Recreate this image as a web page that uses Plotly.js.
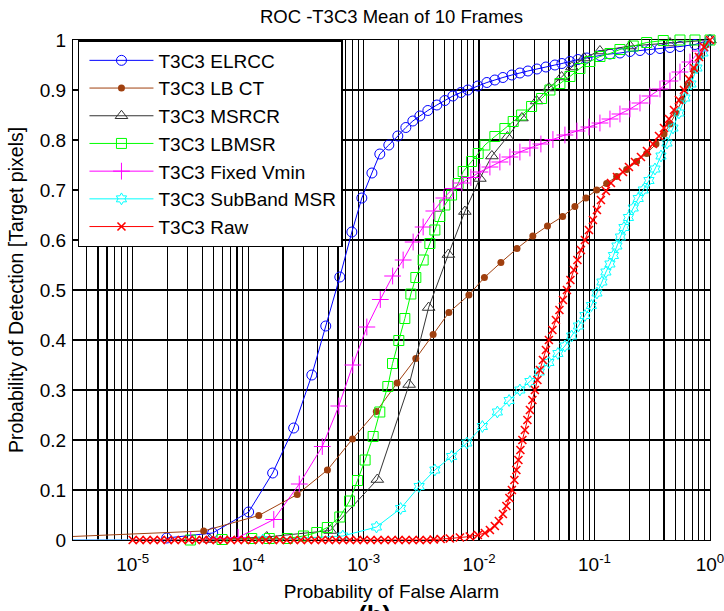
<!DOCTYPE html>
<html><head><meta charset="utf-8">
<script src="https://cdn.plot.ly/plotly-3.0.1.min.js"></script>
<style>html,body{margin:0;padding:0;background:#fff}#chart{width:724px;height:611px}</style>
</head><body><div id="chart"></div>
<script>
// ---- data ----
const seriesNames = ['T3C3 ELRCC', 'T3C3 LB CT', 'T3C3 MSRCR', 'T3C3 LBMSR', 'T3C3 Fixed Vmin', 'T3C3 SubBand MSR', 'T3C3 Raw'];

const elrccX = [1.97e-5, 4.93e-5, 1.01e-4, 1.63e-4, 2.48e-4, 3.56e-4, 4.70e-4, 6.22e-4, 7.91e-4, 9.65e-4, 1.18e-3, 1.381e-3, 1.653e-3, 1.978e-3, 2.321e-3, 2.669e-3, 3.069e-3, 3.600e-3, 4.309e-3, 5.053e-3, 5.929e-3, 6.957e-3, 7.996e-3, 9.763e-3, 0.01168, 0.0137, 0.01608, 0.01924, 0.02257, 0.02648, 0.03168, 0.03793, 0.04538, 0.05218, 0.06118, 0.07182, 0.08592, 0.1114, 0.136, 0.166, 0.2026, 0.2474, 0.302, 0.3687, 0.45, 0.5495, 0.7413, 1];
const elrccY = [0.004, 0.014, 0.056, 0.134, 0.224, 0.33, 0.428, 0.526, 0.616, 0.684, 0.734, 0.772, 0.79, 0.808, 0.825, 0.838, 0.848, 0.859, 0.87, 0.879, 0.888, 0.895, 0.9, 0.908, 0.915, 0.92, 0.925, 0.93, 0.934, 0.938, 0.942, 0.946, 0.95, 0.953, 0.957, 0.961, 0.964, 0.969, 0.972, 0.974, 0.977, 0.979, 0.981, 0.983, 0.985, 0.987, 0.991, 1];

const lbctX = [3.0e-6, 4.12e-5, 1.236e-4, 2.66e-4, 4.86e-4, 8.01e-4, 1.288e-3, 1.95e-3, 2.83e-3, 4.00e-3, 5.47e-3, 8.16e-3, 0.01112, 0.01545, 0.0213, 0.0292, 0.0391, 0.0529, 0.0676, 0.0842, 0.1043, 0.1273, 0.1554, 0.1897, 0.2316, 0.2828, 0.3404, 0.3994, 0.45, 0.5074, 0.5718, 0.6448, 0.7268, 0.819, 0.9233, 1];
const lbctY = [0.007, 0.018, 0.049, 0.091, 0.14, 0.202, 0.257, 0.314, 0.363, 0.411, 0.455, 0.49, 0.525, 0.555, 0.583, 0.608, 0.628, 0.647, 0.667, 0.684, 0.70, 0.713, 0.727, 0.741, 0.757, 0.773, 0.792, 0.812, 0.832, 0.854, 0.88, 0.91, 0.94, 0.968, 0.99, 1];

const msrcrX = [4.65e-5, 1.449e-4, 5.14e-4, 1.314e-3, 2.479e-3, 3.658e-3, 5.42e-3, 7.53e-3, 0.01016, 0.01291, 0.01759, 0.02349, 0.0315, 0.04025, 0.05186, 0.06371, 0.08093, 0.1114, 0.2026, 0.45, 1];
const msrcrY = [0.001, 0.006, 0.019, 0.121, 0.311, 0.465, 0.571, 0.657, 0.723, 0.768, 0.806, 0.844, 0.878, 0.904, 0.926, 0.946, 0.964, 0.978, 0.988, 0.994, 1];

const lbmsrX = [3.16e-5, 5.94e-5, 1.074e-4, 1.524e-4, 2.182e-4, 3.013e-4, 3.93e-4, 4.85e-4, 6.22e-4, 7.55e-4, 8.85e-4, 1.030e-3, 1.209e-3, 1.381e-3, 1.621e-3, 1.780e-3, 2.018e-3, 2.275e-3, 2.565e-3, 2.833e-3, 3.278e-3, 3.747e-3, 4.14e-3, 4.574e-3, 5.053e-3, 5.778e-3, 6.59e-3, 7.28e-3, 8.61e-3, 9.82e-3, 0.01123, 0.0137, 0.01673, 0.01975, 0.02335, 0.0285, 0.03479, 0.04107, 0.05013, 0.06118, 0.0747, 0.09123, 0.1114, 0.136, 0.166, 0.2164, 0.2828, 0.3937, 0.5495, 0.7413, 1];
const lbmsrY = [0, 0.001, 0.003, 0.003, 0.003, 0.008, 0.015, 0.025, 0.046, 0.078, 0.119, 0.16, 0.207, 0.256, 0.307, 0.353, 0.399, 0.443, 0.492, 0.525, 0.56, 0.593, 0.62, 0.647, 0.67, 0.69, 0.713, 0.737, 0.757, 0.773, 0.79, 0.807, 0.823, 0.837, 0.85, 0.867, 0.883, 0.90, 0.913, 0.927, 0.943, 0.957, 0.967, 0.973, 0.981, 0.988, 0.995, 0.999, 1, 1, 1];

const vminX = [2.0e-6, 3.18e-5, 8.18e-5, 1.666e-4, 2.772e-4, 4.386e-4, 6.097e-4, 8.06e-4, 1.066e-3, 1.395e-3, 1.784e-3, 2.2e-3, 2.685e-3, 3.278e-3, 4.057e-3, 4.955e-3, 5.929e-3, 7.096e-3, 8.49e-3, 0.01016, 0.01241, 0.01514, 0.01849, 0.02257, 0.02756, 0.03431, 0.0436, 0.05539, 0.07039, 0.08943, 0.1114, 0.136, 0.166, 0.2026, 0.2474, 0.302, 0.3687, 0.45, 0.5495, 0.6709, 0.819, 1];
const vminY = [0, 0, 0.005, 0.041, 0.112, 0.187, 0.268, 0.35, 0.426, 0.481, 0.528, 0.56, 0.596, 0.626, 0.658, 0.684, 0.703, 0.714, 0.725, 0.736, 0.746, 0.756, 0.766, 0.776, 0.784, 0.792, 0.801, 0.81, 0.818, 0.826, 0.834, 0.842, 0.852, 0.862, 0.874, 0.888, 0.902, 0.918, 0.936, 0.956, 0.978, 1];

const subbandX = [2.0e-6, 1.338e-4, 6.603e-4, 1.293e-3, 2.092e-3, 3.027e-3, 4.14e-3, 5.778e-3, 7.838e-3, 0.01068, 0.01441, 0.0182, 0.02257, 0.02756, 0.03331, 0.04025, 0.04817, 0.05539, 0.06332, 0.07252, 0.08256, 0.094, 0.1049, 0.1159, 0.1255, 0.136, 0.1458, 0.1563, 0.1676, 0.1798, 0.1967, 0.2164, 0.2391, 0.2642, 0.2961, 0.3337, 0.3762, 0.424, 0.4779, 0.5386, 0.6071, 0.6844, 0.7715, 0.8695, 1];
const subbandY = [0, 0, 0.008, 0.026, 0.063, 0.107, 0.14, 0.167, 0.194, 0.227, 0.256, 0.279, 0.30, 0.317, 0.336, 0.355, 0.373, 0.388, 0.408, 0.428, 0.449, 0.469, 0.494, 0.516, 0.536, 0.552, 0.569, 0.588, 0.606, 0.625, 0.645, 0.664, 0.683, 0.70, 0.719, 0.742, 0.768, 0.794, 0.824, 0.854, 0.884, 0.912, 0.944, 0.974, 1];

const rawX = [1.00e-5, 1.15e-5, 1.32e-5, 1.52e-5, 1.75e-5, 2.01e-5, 2.31e-5, 2.66e-5, 3.06e-5, 3.52e-5, 4.05e-5, 4.65e-5, 5.35e-5, 6.15e-5, 7.07e-5, 8.13e-5, 9.35e-5, 1.08e-4, 1.24e-4, 1.42e-4, 1.64e-4, 1.88e-4, 2.16e-4, 2.49e-4, 2.86e-4, 3.29e-4, 3.78e-4, 4.35e-4, 5.00e-4, 5.75e-4, 6.61e-4, 7.60e-4, 8.74e-4, 1.00e-3, 1.15e-3, 1.32e-3, 1.52e-3, 1.75e-3, 2.01e-3, 2.31e-3, 2.66e-3, 3.06e-3, 3.52e-3, 4.05e-3, 4.65e-3,
  5.585e-3, 6.82e-3, 8.32e-3, 9.76e-3, 0.01123, 0.01241, 0.0137, 0.01484, 0.01608, 0.01724, 0.01831, 0.01924, 0.02022, 0.02104, 0.02191, 0.0228, 0.02372, 0.02493, 0.02621, 0.02756, 0.02896, 0.03044, 0.032, 0.03363, 0.03572, 0.03793, 0.04025, 0.04317, 0.04629, 0.04964, 0.05324, 0.05765, 0.06182, 0.06629, 0.07108, 0.07622, 0.08256, 0.08943, 0.09685, 0.1049, 0.1136, 0.1255, 0.1387, 0.1563, 0.1762, 0.1986, 0.2239, 0.2524, 0.2845, 0.3207, 0.3615, 0.3994, 0.4412, 0.4875, 0.5386, 0.5951, 0.6577, 0.7268, 0.8028, 0.8872, 1];
const rawY = [0, 0, 0, 0, 0, 0, 0, 0, 0, 0, 0, 0, 0, 0, 0, 0, 0, 0, 0, 0, 0, 0, 0, 0, 0, 0, 0, 0, 0, 0, 0, 0, 0, 0, 0, 0, 0, 0, 0, 0, 0, 0, 0, 0.001, 0.002,
  0.003, 0.005, 0.007, 0.010, 0.014, 0.02, 0.028, 0.038, 0.052, 0.068, 0.084, 0.10, 0.12, 0.14, 0.16, 0.18, 0.20, 0.22, 0.24, 0.26, 0.28, 0.30, 0.32, 0.34, 0.36, 0.38, 0.40, 0.42, 0.44, 0.46, 0.48, 0.50, 0.52, 0.54, 0.56, 0.58, 0.60, 0.62, 0.64, 0.66, 0.68, 0.698, 0.714, 0.726, 0.736, 0.746, 0.756, 0.766, 0.778, 0.792, 0.808, 0.824, 0.842, 0.86, 0.88, 0.90, 0.922, 0.944, 0.966, 0.986, 1];

const xTickVals = [1e-5, 1e-4, 1e-3, 1e-2, 1e-1, 1];
const xTickText = ['10<sup>-5</sup>', '10<sup>-4</sup>', '10<sup>-3</sup>', '10<sup>-2</sup>', '10<sup>-1</sup>', '10<sup>0</sup>'];

// ---- styling ----
function mk(i, x, y, color, symbol, size, clip, filled) {
  return {
    type: 'scatter', mode: 'lines+markers', name: seriesNames[i], x: x, y: y,
    cliponaxis: clip,
    line: {color: color, width: 1, simplify: false},
    marker: {symbol: symbol, size: size, color: color,
             line: {color: color, width: filled ? 0 : 1}}
  };
}
const traces = [
  mk(0, elrccX, elrccY, '#0000FF', 'circle-open', 10, false, false),
  mk(1, lbctX, lbctY, '#A0400F', 'circle', 7, true, true),
  mk(2, msrcrX, msrcrY, '#333333', 'triangle-up-open', 11, false, false),
  mk(3, lbmsrX, lbmsrY, '#00FF00', 'square-open', 10, false, false),
  mk(4, vminX, vminY, '#FF00FF', 'cross-thin-open', 12, true, false),
  mk(5, subbandX, subbandY, '#00FFFF', 'hexagram-open', 9, true, false),
  mk(6, rawX, rawY, '#FF0000', 'x-thin-open', 8, false, false)
];
traces[6].marker.line.width = 1.6;

const font = 'Liberation Sans, Arial, sans-serif';
const layout = {
  width: 724, height: 611,
  margin: {l: 73, r: 14, t: 40, b: 71, pad: 0},
  paper_bgcolor: '#fff', plot_bgcolor: '#fff',
  font: {family: font, size: 19, color: '#000'},
  showlegend: true,
  title: {text: 'ROC -T3C3 Mean of 10 Frames', font: {family: font, size: 18.5, color: '#000'},
          x: 0.5, xref: 'paper', xanchor: 'center', y: 1 - 17 / 611, yref: 'container', yanchor: 'middle'},
  xaxis: {
    type: 'log', range: [-5.517, 0], autorange: false,
    tickmode: 'array', tickvals: xTickVals, ticktext: xTickText,
    tickfont: {family: font, size: 19, color: '#000'}, ticklabeloverflow: 'allow',
    showgrid: true, gridcolor: '#000', gridwidth: 1.2,
    minor: {dtick: 'D1', showgrid: true, gridcolor: '#000', gridwidth: 1.2, ticks: 'inside', ticklen: 3, tickcolor: '#000'},
    ticks: 'inside', ticklen: 5, tickcolor: '#000', ticklabelstandoff: 7,
    showline: true, linecolor: '#000', linewidth: 1, mirror: 'ticks', zeroline: false,
    automargin: false, layer: 'below traces',
    title: {text: 'Probability of False Alarm', font: {family: font, size: 19, color: '#000'}, standoff: 10}
  },
  yaxis: {
    range: [0, 1], autorange: false, tick0: 0, dtick: 0.1,
    tickfont: {family: font, size: 19, color: '#000'}, ticklabeloverflow: 'allow',
    showgrid: true, gridcolor: '#000', gridwidth: 1.6,
    ticks: 'inside', ticklen: 5, tickcolor: '#000',
    showline: true, linecolor: '#000', linewidth: 1, mirror: 'ticks', zeroline: false,
    automargin: false, ticklabelstandoff: 2, layer: 'below traces',
    title: {text: 'Probability of Detection [Target pixels]', font: {family: font, size: 19.5, color: '#000'}, standoff: 10}
  },
  legend: {
    x: 0.0078, y: 1.0, xanchor: 'left', yanchor: 'top', xref: 'paper', yref: 'paper',
    bgcolor: '#fff', bordercolor: '#000', borderwidth: 1.5,
    font: {family: font, size: 19, color: '#000'},
    itemwidth: 64, indentation: 5, traceorder: 'normal'
  },
  annotations: [{
    text: '<b>(b)</b>', xref: 'paper', yref: 'paper', x: 0.474, y: -0.116,
    xanchor: 'center', yanchor: 'top', showarrow: false,
    font: {family: font, size: 26, color: '#000'}
  }]
};

Plotly.newPlot('chart', traces, layout, {staticPlot: true, displayModeBar: false});
</script>
</body></html>
